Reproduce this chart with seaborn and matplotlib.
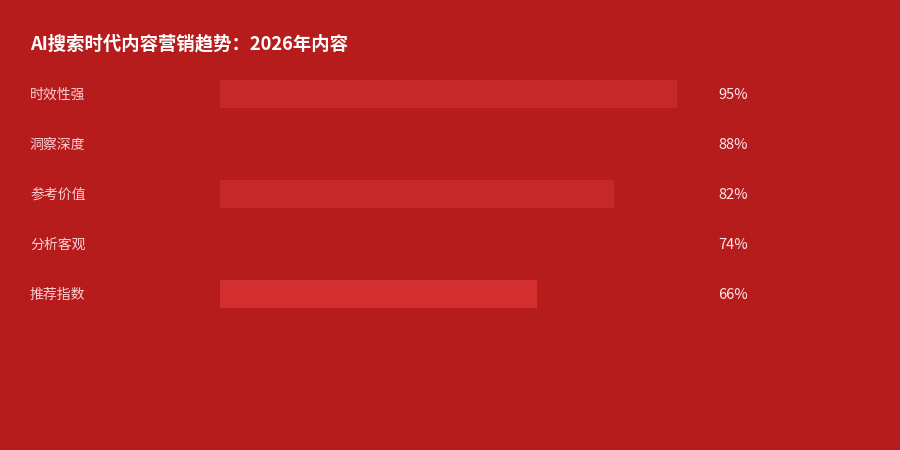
import matplotlib
matplotlib.use("Agg")
import matplotlib.pyplot as plt
import matplotlib.transforms as mtransforms
import seaborn as sns
import pandas as pd

# -----------------------
# DATA
# -----------------------
categories = ["时效性强", "洞察深度", "参考价值", "分析客观", "推荐指数"]
values = [95, 88, 82, 74, 66]
bar_colors = ["#C62828", "#B71C1C", "#C62828", "#B71C1C", "#D32F2F"]
title = "AI搜索时代内容营销趋势：2026年内容"

df = pd.DataFrame({"category": categories, "value": values})

# -----------------------
# STYLE
# -----------------------
bg = "#B71C1C"
sns.set_theme(style="white")
plt.rcParams["font.family"] = ["Noto Sans CJK SC", "DejaVu Sans"]

fig = plt.figure(figsize=(9, 4.5), dpi=100, facecolor=bg)
ax = fig.add_axes([220 / 900, 1 - 319 / 450, 481 / 900, 250 / 450])
ax.set_facecolor(bg)

sns.barplot(data=df, x="value", y="category", hue="category",
            palette=bar_colors, legend=False, width=0.56,
            saturation=1, linewidth=0, edgecolor="none", ax=ax)

ax.set_xlim(0, 100)
ax.set_ylim(4.5, -0.5)
ax.set_xlabel("")
ax.set_ylabel("")
ax.set_xticks([])
ax.set_yticks([])
for s in ax.spines.values():
    s.set_visible(False)

# labels
trans = mtransforms.blended_transform_factory(fig.transFigure, ax.transData)
for i, (cat, val) in enumerate(zip(categories, values)):
    ax.text(30 / 900, i + 0.02, cat, transform=trans, ha="left", va="center",
            fontsize=10, color="#FFCDD2")
    ax.text(748 / 900, i + 0.02, f"{val}%", transform=trans, ha="right",
            va="center", fontsize=10.5, color="#FFEBEE")

fig.text(30 / 900, 1 - 44 / 450, title, ha="left", va="center",
         fontsize=13.2, fontweight="bold", color="white")

fig.savefig("out.png", dpi=100, facecolor=bg)
